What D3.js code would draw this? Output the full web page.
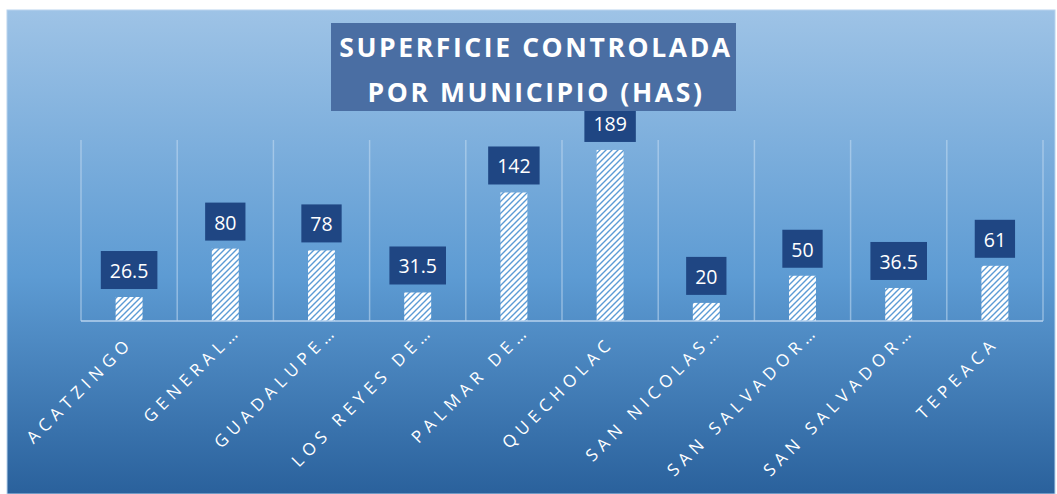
<!DOCTYPE html>
<html><head><meta charset="utf-8">
<script src="https://cdn.jsdelivr.net/npm/d3@7"></script>
<style>html,body{margin:0;padding:0;background:#fff;}svg{display:block;}</style>
</head><body>
<svg id="c" width="1057" height="494"></svg>
<script>
const categories = ["ACATZINGO","GENERAL…","GUADALUPE…","LOS REYES DE…","PALMAR DE…","QUECHOLAC","SAN NICOLAS…","SAN SALVADOR…","SAN SALVADOR…","TEPEACA"];
const values = [26.5, 80, 78, 31.5, 142, 189, 20, 50, 36.5, 61];
const valueLabels = ["26.5","80","78","31.5","142","189","20","50","36.5","61"];
const titleLines = ["SUPERFICIE CONTROLADA","POR MUNICIPIO (HAS)"];
const yDomain = [0, 200];

(function(){
const svg = d3.select("#c");
const defs = svg.append("defs");
const grad = defs.append("linearGradient").attr("id","bg").attr("x1",0).attr("y1",0).attr("x2",0).attr("y2",1);
grad.append("stop").attr("offset","0%").attr("stop-color","#9ec3e6");
grad.append("stop").attr("offset","55%").attr("stop-color","#5d9bd3");
grad.append("stop").attr("offset","100%").attr("stop-color","#2a619c");

const pat = defs.append("pattern").attr("id","hatch").attr("patternUnits","userSpaceOnUse")
  .attr("width",6).attr("height",6);
pat.append("rect").attr("width",6).attr("height",6).attr("fill","#ffffff");
pat.append("path").attr("d","M-1,1 l2,-2 M0,6 l6,-6 M5,7 l2,-2")
  .attr("stroke","#5b9bd5").attr("stroke-width",1.4);

svg.append("rect").attr("x",7).attr("y",10).attr("width",1048).attr("height",484)
  .attr("fill","url(#bg)").attr("stroke","#b9d4ee").attr("stroke-width",1);

const pLeft = 81, pRight = 1043, pTop = 140, pBottom = 321;
const x = d3.scaleBand().domain(d3.range(categories.length)).range([pLeft,pRight]).paddingInner(0).paddingOuter(0);
const y = d3.scaleLinear().domain(yDomain).range([pBottom, pTop]);
const bw = x.bandwidth()*0.28;

const edges = d3.range(categories.length+1).map(i => pLeft + i*x.bandwidth());
svg.append("g").selectAll("line").data(edges).join("line")
  .attr("x1",d=>d).attr("x2",d=>d).attr("y1",pTop).attr("y2",pBottom)
  .attr("stroke","#c5dcf2").attr("stroke-opacity",0.55).attr("stroke-width",1.5);

svg.append("g").selectAll("rect").data(values).join("rect")
  .attr("x",(d,i)=>x(i)+x.bandwidth()/2-bw/2).attr("width",bw)
  .attr("y",d=>y(d)).attr("height",d=>y(0)-y(d))
  .attr("fill","url(#hatch)");

const xAxis = d3.axisBottom(x).tickSize(0).tickFormat(i=>categories[i]);
const ax = svg.append("g").attr("transform",`translate(0,${pBottom})`).call(xAxis);
ax.select(".domain").attr("stroke","#b7d2ee").attr("stroke-width",1.5).attr("d",`M${pLeft},0H${pRight}`);
ax.selectAll("text")
  .attr("fill","#ffffff").attr("font-family","'Open Sans', sans-serif").attr("font-size",17)
  .attr("letter-spacing","5.3px")
  .attr("text-anchor","end").attr("dy",null).attr("y",0).attr("x",0)
  .attr("transform",i => categories[i].endsWith("…") ? "translate(17,11) rotate(-45)" : "translate(5,23) rotate(-45)");

const lg = svg.append("g").selectAll("g").data(values).join("g")
  .attr("transform",(d,i)=>`translate(${x(i)+x.bandwidth()/2},${y(d)-8})`);
lg.append("text").text((d,i)=>valueLabels[i])
  .attr("text-anchor","middle").attr("y",-11).attr("fill","#fff")
  .attr("font-family","'Open Sans', sans-serif").attr("font-size",19.5);
lg.each(function(){
  const g = d3.select(this);
  const t = g.select("text").node().getBBox();
  g.insert("rect","text").attr("x",t.x-9).attr("y",-38).attr("width",t.width+18).attr("height",38)
    .attr("fill","#1f4683");
});

const tg = svg.append("g");
tg.append("rect").attr("x",331).attr("y",23).attr("width",405).attr("height",88).attr("fill","#4a6ea3");
tg.selectAll("text").data(titleLines).join("text")
  .attr("x",536).attr("y",(d,i)=>57+i*44.5).attr("text-anchor","middle")
  .attr("fill","#fff").attr("font-family","'Open Sans', sans-serif").attr("font-weight","bold")
  .attr("font-size",26.5).attr("letter-spacing","2.6px").text(d=>d);
})();
</script>
</body></html>
